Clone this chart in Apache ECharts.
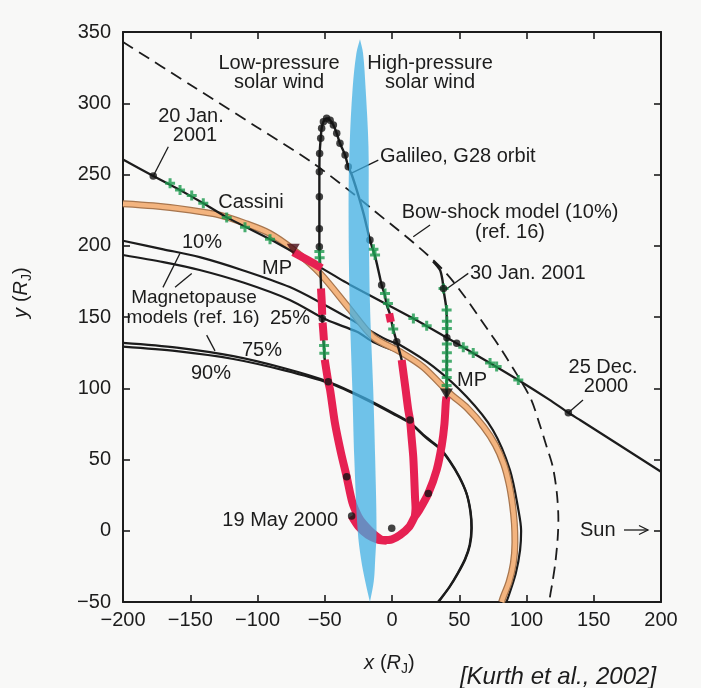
<!DOCTYPE html>
<html><head><meta charset="utf-8">
<script src="https://cdn.jsdelivr.net/npm/echarts/dist/echarts.min.js"></script>
<style>html,body{margin:0;padding:0;background:#f8f8f7}#c{width:701px;height:688px}</style>
</head><body><div id="c"></div>
<script>
// ---- axis ranges / ticks ----
var xRange = [-200, 200];
var yRange = [-50, 350];
var tickStep = 50;

// ---- boundary between low / high pressure solar wind (lens) ----
var lensY      = [345, 335, 310, 270, 230, 160, 100, 50, 0, -20, -35, -50];
var lensLeftX  = [-23.8, -26.5, -29.3, -31.5, -32.3, -31.5, -29.5, -28, -25.5, -23, -20, -16.4];
var lensRightX = [-23.8, -21.5, -19.6, -17.5, -17.3, -16.4, -14, -12.5, -11.5, -12.5, -13.5, -16.4];

// ---- bow shock model (10%) ----
var bowShock = [[-200,343],[-150,313],[-100,283],[-58.7,258],[-16.4,227],[38,183],[75,136],[90,114],[103,93],[110,74],[115,59],[119.5,45],[122.5,27],[123.7,8],[123.2,-5],[121.5,-22],[119.5,-35],[117.5,-46],[117,-50]];

// ---- magnetopause models (ref. 16) ----
var mp10 = [[-200,203.5],[-170,197.5],[-143,192],[-110,182.5],[-76,171],[-51,159],[-30,148],[-4,134],[6,130.3],[31,115],[55.5,94],[75,70.7],[87.7,42.6],[94,14.5],[96,0],[95.2,-13.8],[92,-30],[86.5,-46.3],[85,-50]];
var mp25 = [[-200,193.5],[-170,188.5],[-143,183],[-110,174],[-76,162],[-48.6,148],[-26,139.6],[-14,132.5],[0,127],[8,124.5]];
var mp75 = [[-200,131.8],[-160,128.5],[-118,122.5],[-80,114],[-47.4,104.6],[-20,93],[6,80],[13.4,76],[25,66],[35.7,58],[43,49],[50,38],[55.5,26],[58.5,13],[59.3,2],[58,-10],[54.5,-20],[49,-30],[43,-39.3],[35.7,-48.6],[34.5,-50]];
var mp90 = [[-200,129.2],[-160,126],[-118,120.5],[-80,112.5],[-47.4,103.8],[-20,92.3],[6,79.4],[13.4,75.5],[25,65.5],[35.7,57.4],[43,48.5],[50,37.5],[55.5,25.7],[58.3,13],[59,2],[57.7,-10],[54.2,-20],[48.7,-30],[42.7,-39.3],[35.4,-48.6],[34.2,-50]];

// ---- magnetopause for the actual solar-wind pressure (orange) ----
var mpOrange = [[-200,229.5],[-177.5,228],[-150,225],[-128,221.5],[-110,216],[-91,208.7],[-73,197],[-53.5,180.6],[-31,155],[-14,136],[6,125.6],[23,115],[43,96.4],[56,86],[68,73],[77,60],[83,47],[87,33],[89.5,19],[91,5],[91.4,-8],[90.2,-23],[87,-36],[82.8,-46.3],[81.5,-50]];

// ---- Cassini trajectory ----
var cassini = [[-200,260.5],[-177.5,249],[-157.6,239.1],[-140.3,229.8],[-122.9,219.9],[-90.7,204.5],[-73.4,195.5],[-52.3,184.3],[-31,172.5],[15.9,149],[40.8,135.5],[48.1,131.5],[75.3,116.3],[93.9,105.8],[117.5,91.7],[131.1,82.8],[139.8,77.7],[200,41.4]];
var cassiniDots = [[-177.5,249],[48.1,131.5],[131.1,82.8]];
var cassiniCrossings = [[-165,243.8],[-157.6,239.1],[-148.9,235.3],[-140.3,229.8],[-122.9,219.9],[-109.3,213],[-90.7,204.5],[15.9,149],[25.8,143.8],[53,128.8],[60.4,124.8],[72.9,117.8],[77.8,115.2],[93.9,105.8]];
var cassiniMagnetosphere = [[-73.4,195.5],[-62,189.6],[-52.3,184.3]];

// ---- Galileo G28 orbit ----
var galileo = [[-30,10.3],[-25,3],[-18,-3],[-10,-6.5],[-4,-7],[3,-5],[10,0],[15,5],[17,10],[17.5,16],[17.1,24],[16.5,38],[15.8,52],[14.5,66],[13.4,77.7],[12.1,84.7],[10,100],[7.2,119.8],[3.5,132.6],[0.7,142],[-1.5,152],[-3.9,158.4],[-5.5,166],[-7.7,172.4],[-10.2,183],[-12.6,192.5],[-16.4,204],[-21,222],[-26.2,239],[-30,250],[-32.5,255.4],[-34.9,263.7],[-38.7,271.9],[-41.1,278.9],[-43.6,284.7],[-46,288],[-48.6,289.4],[-51,287],[-52.3,282.4],[-53,275.4],[-53.8,264.8],[-54,252],[-54,234.4],[-54,212],[-54,199.3],[-53.6,190],[-53.1,180],[-52.7,169],[-51.9,151],[-51.5,140],[-50.5,128],[-50,120],[-47.4,104.6],[-46,98.7],[-42.4,75.4],[-38,55],[-33.7,37.9],[-29.5,20],[-25,10],[-21.3,5],[-14,-2],[-6.5,-6.5],[0,-6],[6,-3],[13,3],[17,10],[20,14],[27,26.2],[33.2,42.6],[37,60],[39,75],[40,90],[40.5,95],[40.7,100],[40.7,115],[40.8,135],[40.5,155],[38.5,168],[37.5,176],[35.7,183],[30.5,189]];
var galileoInside1 = [[-52.8,170],[-52.2,160],[-51.9,151.5]];
var galileoInside2 = [[-51.6,146],[-51,139],[-50.6,133.5]];
var galileoInside3 = [[-50,120],[-47.4,104.6],[-46,98.7],[-42.4,75.4],[-38,55],[-33.7,37.9],[-29.5,20],[-25,10],[-21.3,5],[-14,-2],[-6.5,-6.5],[0,-6],[6,-3],[13,3],[17,10],[20,14],[27,26.2],[33.2,42.6],[37,60],[39,75],[40,90],[40.5,94]];
var galileoInside4 = [[-30,10.3],[-25,3],[-18,-3],[-10,-6.5],[-4,-7]];
var galileoInside5 = [[17,10],[17.5,16],[17.1,24],[16.5,38],[15.8,52],[14.5,66],[13.4,77.7],[12.1,84.7],[10,100],[7.2,119.8]];
var galileoInside6 = [[-2.1,152.5],[-0.8,146.5]];
var galileoDots = [[-30,10.3],[-0.2,1.7],[-33.7,37.9],[-47.4,104.6],[-51.8,149],[-54,199.3],[-54,212],[-54,234.4],[-54,252],[-53.8,264.8],[-53,275.4],[-52.3,282.4],[-51,287],[-48.6,289.4],[-46,288],[-43.6,284.7],[-41.1,278.9],[-38.7,271.9],[-34.9,263.7],[-32.5,255.4],[-16.4,204],[-7.7,172.4],[3.5,132.6],[13.4,77.7],[27,26.2],[40.8,135.5],[38.3,170]];
var galileoCrossings = [[-54,196],[-53.8,191.5],[-50.5,130],[-50.3,124.5],[-13.8,197.5],[-12.6,193.5],[-5.2,166.5],[-3,159.5],[0.9,141.5],[38.3,170],[40.6,155],[40.8,147],[40.8,142],[40.8,131],[40.8,125],[40.8,119],[40.7,113],[40.7,107.5],[40.6,102]];
var mpMarkers = [[-73.4,197.5],[40.5,96]];

// ---- leader lines for annotations ----
var leaders = [
  [[-166.3,269.5],[-177.5,249]],
  [[-10.2,260.1],[-30.5,250.8]],
  [[28.3,214.5],[15.8,206.3]],
  [[56.7,180.6],[40.2,169.5]],
  [[142,91.7],[131.1,82.8]],
  [[-170.3,170.8],[-157.6,194.7]],
  [[-161.3,170.8],[-148.9,180.6]],
  [[-137.8,137.3],[-131.6,126.2]]
];

var FONT = "'Liberation Sans', Arial, Helvetica, sans-serif";
var INK = '#1c1c1c';
var RED = '#e62152';
var GREEN = '#1c9a4e';
var plusPath = 'path://M3.5,0H6.5V3.5H10V6.5H6.5V10H3.5V6.5H0V3.5H3.5Z';

function lineSeries(data, color, width, extra) {
  var s = {type:'line', data:data, symbol:'none', showSymbol:false, smooth:0.3,
    lineStyle:{color:color, width:width}, silent:true, z:2};
  if (extra) for (var k in extra) s[k] = extra[k];
  return s;
}
function minus(v){ return String(v).replace('-', '\u2212'); }

var chart = echarts.init(document.getElementById('c'), null, {renderer:'canvas'});
var series = [];

series.push(lineSeries(bowShock, INK, 1.8, {lineStyle:{color:INK, width:1.8, type:[12,7]}}));
series.push(lineSeries(mp10, INK, 2.2));
series.push(lineSeries(mp25, INK, 2.2));
series.push(lineSeries(mp75, INK, 2.2));
series.push(lineSeries(mp90, INK, 2.2));
series.push(lineSeries(mpOrange, '#a8764e', 7, {z:3}));
series.push(lineSeries(mpOrange, '#f3b47f', 4.5, {z:3}));
series.push(lineSeries(cassini, INK, 2.2, {smooth:0.15, z:4}));
series.push(lineSeries(galileo, INK, 2.4, {smooth:0.25, z:4}));
[galileoInside1, galileoInside2, galileoInside3, galileoInside4, galileoInside5, galileoInside6, cassiniMagnetosphere].forEach(function(seg){
  series.push(lineSeries(seg, RED, 8, {smooth:0.25, z:5, lineStyle:{color:RED, width:8, cap:'butt'}}));
});
leaders.forEach(function(seg){
  series.push(lineSeries(seg, INK, 1.3, {smooth:false, z:4}));
});
series.push({type:'scatter', data:cassiniCrossings.concat(galileoCrossings), symbol:plusPath, symbolSize:10,
  itemStyle:{color:GREEN}, silent:true, z:6});
series.push({type:'scatter', data:galileoDots.concat(cassiniDots), symbol:'circle', symbolSize:7.5,
  itemStyle:{color:'#141414'}, silent:true, z:7});
series.push({type:'scatter', data:mpMarkers, symbol:'triangle', symbolRotate:180, symbolSize:[13,11],
  itemStyle:{color:function(p){ return p.dataIndex === 0 ? '#4a0d18' : '#161616'; }}, silent:true, z:7});
series.push({type:'custom', coordinateSystem:'cartesian2d', data:[[0,0]], silent:true, z:8,
  renderItem:function(params, api){
    var pts = [], i;
    for (i = 0; i < lensY.length; i++) pts.push(api.coord([lensLeftX[i], lensY[i]]));
    for (i = lensY.length - 1; i >= 0; i--) pts.push(api.coord([lensRightX[i], lensY[i]]));
    return {type:'polygon', shape:{points:pts, smooth:0.35}, style:{fill:'#3fb0e4', opacity:0.74}};
  }});

function txt(t, x, y, opt) {
  opt = opt || {};
  return {type:'text', z:100, style:{text:t, x:x, y:y, fill:INK,
    font:(opt.italic?'italic ':'') + (opt.size||20) + 'px ' + FONT,
    textAlign:opt.align||'center', align:opt.align||'center',
    textVerticalAlign:'middle', verticalAlign:'middle'}};
}

var graphics = [
  txt('Low-pressure', 279, 63), txt('solar wind', 279, 82),
  txt('High-pressure', 430, 63), txt('solar wind', 430, 82),
  txt('20 Jan.', 191, 116), txt('2001', 195, 135),
  txt('Cassini', 251, 202),
  txt('Galileo, G28 orbit', 380, 156, {align:'left'}),
  txt('Bow-shock model (10%)', 510, 212), txt('(ref. 16)', 510, 232),
  txt('10%', 202, 242),
  txt('MP', 277, 268),
  txt('30 Jan. 2001', 470, 273, {align:'left'}),
  txt('Magnetopause', 194, 298, {size:19}), txt('models (ref. 16)', 193, 318, {size:19}),
  txt('25%', 290, 318), txt('75%', 262, 350), txt('90%', 211, 373),
  txt('MP', 472, 380),
  txt('25 Dec.', 603, 367), txt('2000', 606, 386),
  txt('19 May 2000', 338, 520, {align:'right'}),
  txt('Sun', 580, 530, {align:'left'}),
  {type:'line', z:100, shape:{x1:624, y1:530, x2:648, y2:530}, style:{stroke:INK, lineWidth:1.3}},
  {type:'polyline', z:100, shape:{points:[[639,525.5],[648,530],[639,534.5]]}, style:{stroke:INK, lineWidth:1.3, fill:null}},
  // x axis name
  txt('x', 364, 663, {italic:true, size:20, align:'left'}),
  txt('(', 380, 663, {size:20, align:'left'}),
  txt('R', 386.5, 663, {italic:true, size:20, align:'left'}),
  txt('J', 401, 669, {size:14, align:'left'}),
  txt(')', 408, 663, {size:20, align:'left'}),
  // y axis name (rotated)
  {type:'group', x:21, y:318, rotation:Math.PI/2, z:100, children:[
    txt('y', 0, 0, {italic:true, size:20, align:'left'}),
    txt('(', 16, 0, {size:20, align:'left'}),
    txt('R', 22.5, 0, {italic:true, size:20, align:'left'}),
    txt('J', 37, 6, {size:14, align:'left'}),
    txt(')', 44, 0, {size:20, align:'left'})
  ]},
  txt('[Kurth et al., 2002]', 558, 677, {italic:true, size:24})
];

var axisLine = {show:true, onZero:false, lineStyle:{color:INK, width:2}};
var axisTick = {show:true, inside:true, length:7, lineStyle:{color:INK, width:1.6}};
function xAx(pos, labels) {
  return {type:'value', position:pos, min:xRange[0], max:xRange[1], interval:tickStep,
    axisLine:axisLine, axisTick:axisTick, splitLine:{show:false},
    axisLabel:{show:labels, fontSize:20, fontFamily:FONT, color:INK, margin:8, formatter:minus}};
}
function yAx(pos, labels) {
  return {type:'value', position:pos, min:yRange[0], max:yRange[1], interval:tickStep,
    axisLine:axisLine, axisTick:axisTick, splitLine:{show:false},
    axisLabel:{show:labels, fontSize:20, fontFamily:FONT, color:INK, margin:12, formatter:minus}};
}

chart.setOption({
  animation:false,
  backgroundColor:'#f8f8f7',
  grid:{left:123, top:32, width:538, height:570, containLabel:false},
  xAxis:[xAx('bottom', true), xAx('top', false)],
  yAxis:[yAx('left', true), yAx('right', false)],
  series:series,
  graphic:graphics
});
</script></body></html>
